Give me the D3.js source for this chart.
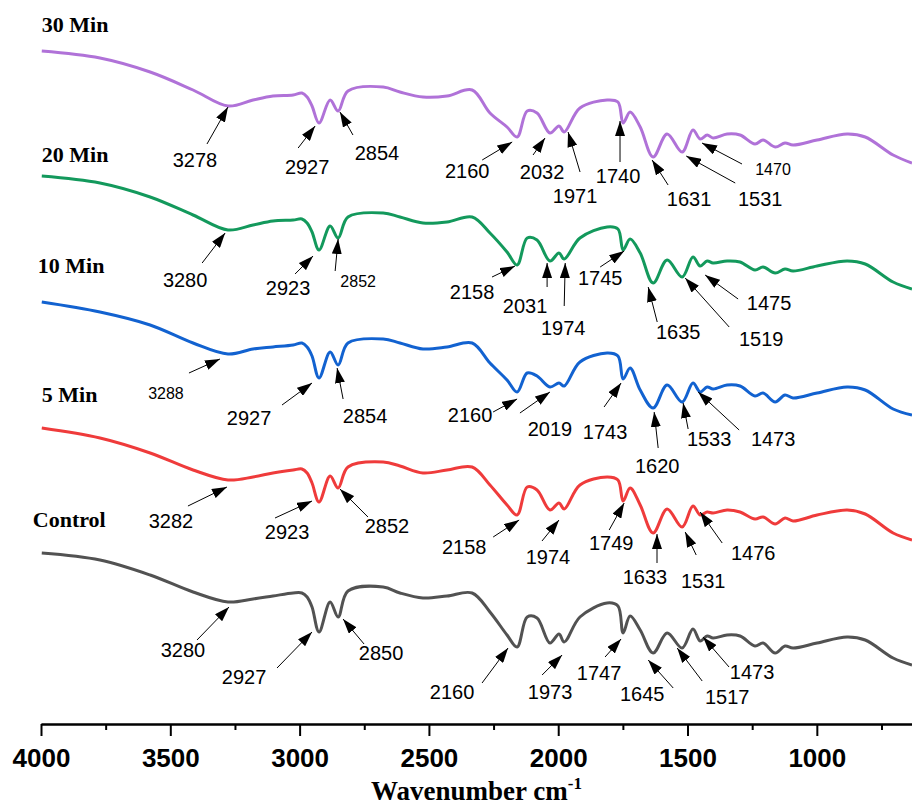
<!DOCTYPE html>
<html>
<head>
<meta charset="utf-8">
<script src="https://cdn.jsdelivr.net/npm/d3@7"></script>
<style>
  body { margin: 0; background: #fff; }
  svg { display: block; }
</style>
</head>
<body>
<script>
// wavenumber grid (cm-1) shared by all spectra
const wavenumbers = [3997, 3772, 3578, 3412, 3277, 3180, 3103, 3025, 2991, 2971,
  2952, 2925, 2882, 2851, 2813, 2677, 2612, 2523, 2430, 2333,
  2264, 2198, 2159, 2120, 2082, 2032, 1997, 1977, 1916, 1811,
  1769, 1749, 1722, 1683, 1633, 1579, 1521, 1479, 1451, 1424,
  1401, 1347, 1297, 1239, 1208, 1161, 1123, 1092, 999, 883,
  813, 705, 632]

// stacked transmittance (a.u.)
const min30 = [67.3, 66.6, 65.2, 63.4, 61.8, 62.4, 62.8, 62.9, 63.1, 62.7,
  61.8, 60.1, 62.4, 61.3, 63.3, 63.7, 63.2, 62.7, 62.8, 63.4,
  61.1, 59.7, 58.7, 61.3, 61.1, 59.1, 59.8, 59.2, 61.6, 62.4,
  62.2, 60.1, 61.2, 59.7, 56.7, 59.0, 57.2, 59.4, 58.5, 58.9,
  58.6, 59.0, 58.9, 58.0, 58.4, 57.7, 58.1, 57.9, 58.4, 59.0,
  58.7, 56.9, 56.1]
const min20 = [54.8, 54.1, 52.7, 50.9, 49.4, 49.9, 50.3, 50.4, 50.5, 50.1,
  49.2, 47.4, 49.8, 48.6, 50.7, 51.1, 50.7, 50.1, 50.2, 50.7,
  49.1, 47.2, 45.9, 48.6, 48.4, 46.3, 47.1, 46.5, 48.6, 49.7,
  49.5, 47.4, 48.5, 47.1, 44.1, 46.4, 44.7, 46.7, 45.8, 46.3,
  46.1, 46.3, 46.2, 45.4, 45.7, 45.1, 45.5, 45.3, 45.8, 46.3,
  46.0, 44.2, 43.5]
const min10 = [42.2, 41.2, 39.9, 38.1, 37.0, 37.5, 37.7, 37.9, 38.1, 37.7,
  36.8, 34.6, 37.2, 35.9, 38.1, 38.5, 38.1, 37.5, 37.7, 38.1,
  36.1, 34.4, 33.2, 35.1, 34.8, 33.7, 34.1, 33.8, 36.2, 37.1,
  36.8, 34.5, 35.6, 33.4, 31.6, 33.9, 32.2, 34.1, 33.2, 33.7,
  33.5, 33.9, 33.8, 32.8, 33.1, 32.2, 32.9, 32.6, 33.1, 33.7,
  33.4, 31.5, 30.9]
const min5 = [29.6, 28.6, 27.1, 25.4, 24.4, 24.7, 25.1, 25.4, 25.5, 25.1,
  24.1, 22.2, 24.8, 23.6, 25.7, 26.2, 25.8, 25.1, 25.4, 25.7,
  23.9, 21.9, 20.9, 23.7, 23.4, 21.4, 22.1, 21.5, 23.9, 24.7,
  24.4, 22.3, 23.6, 21.9, 19.1, 21.5, 19.7, 21.8, 20.9, 21.2,
  21.1, 21.4, 21.2, 20.5, 20.7, 20.0, 20.6, 20.3, 20.9, 21.4,
  21.0, 19.1, 18.4]
const control = [17.1, 16.4, 14.9, 13.2, 12.2, 12.5, 12.8, 13.1, 13.1, 12.7,
  11.7, 9.2, 12.2, 10.7, 13.3, 13.7, 13.1, 12.6, 12.8, 13.1,
  11.2, 8.9, 7.7, 10.7, 10.6, 8.1, 9.0, 8.2, 10.7, 12.1,
  11.8, 9.1, 10.8, 9.4, 7.1, 9.1, 7.6, 9.5, 8.3, 8.8,
  8.6, 8.9, 8.8, 7.8, 8.1, 7.1, 7.8, 7.6, 8.1, 8.7,
  8.4, 6.6, 5.9]

const seriesNames = ["30 Min", "20 Min", "10 Min", "5 Min", "Control"]
const seriesValues = [min30, min20, min10, min5, control]

const majorTicks = [4000, 3500, 3000, 2500, 2000, 1500, 1000]
const minorTicks = [3750, 3250, 2750, 2250, 1750, 1250, 750]

// peak labels: [text, tip wavenumber, tip value]
const peaks30 = [["3278", 3277, 61.7], ["2927", 2940, 59.8], ["2854", 2844, 61.2],
  ["2160", 2178, 58.2], ["2032", 2051, 58.6], ["1971", 1962, 59.2], ["1740", 1761, 60.3],
  ["1631", 1637, 56.4], ["1531", 1505, 56.8], ["1470", 1444, 58.1]]
const peaks20 = [["3280", 3288, 49.1], ["2923", 2948, 46.8], ["2852", 2851, 48.5],
  ["2158", 2167, 45.8], ["2031", 2043, 46.1], ["1974", 1973, 46.1], ["1745", 1745, 47.3],
  ["1635", 1652, 43.7], ["1519", 1509, 44.6], ["1475", 1432, 44.9]]
const peaks10 = [["3288", 3308, 36.5], ["2927", 2952, 34.1], ["2854", 2855, 35.6],
  ["2160", 2159, 32.5], ["2019", 2032, 33.2], ["1743", 1757, 34.1], ["1620", 1629, 31.2],
  ["1533", 1517, 32.1], ["1473", 1459, 33.2]]
const peaks5 = [["3282", 3281, 23.7], ["2923", 2952, 22.3], ["2852", 2844, 23.5],
  ["2158", 2151, 20.4], ["1974", 1997, 20.4], ["1749", 1745, 22.1], ["1633", 1618, 19.0],
  ["1531", 1509, 19.2], ["1476", 1451, 21.2]]
const peaksControl = [["3280", 3273, 11.7], ["2927", 2952, 9.2], ["2850", 2832, 10.5],
  ["2160", 2194, 7.6], ["1973", 1985, 6.9], ["1747", 1757, 8.5], ["1645", 1652, 6.4],
  ["1517", 1540, 7.6], ["1473", 1440, 8.7]]
const seriesPeaks = [peaks30, peaks20, peaks10, peaks5, peaksControl]

// layout of each arrow: [tail dx, tail dy, label dx, label dy, font size]
const arrowLayout = [
  [[-21,37,-33,53,20],[-17,22,-8,41,20],[13,23,37,41,20],[-30,18,-45,29,20],[-12,17,-3,34,20],
   [12,40,7,64,20],[0,41,-2,55,20],[16,25,37,39,20],[49,27,74,43,20],[40,21,71,26,16]],
  [[-23,30,-40,47,20],[-18,18,-25,32,20],[-3,32,20,42,16],[-23,11,-43,26,20],[0,24,-22,43,20],
   [-1,43,-2,65,20],[-24,16,-24,27,20],[9,35,30,45,20],[44,49,76,61,20],[33,24,64,28,20]],
  [[-31,14,-54,34,16],[-30,22,-63,35,20],[6,31,28,48,20],[-24,13,-47,16,20],[-30,21,0,37,20],
   [-17,24,-16,49,20],[4,36,3,54,20],[5,26,26,36,20],[41,38,75,47,20]],
  [[-39,19,-56,34,20],[-37,17,-25,31,20],[28,28,47,37,20],[-26,17,-55,27,20],[-17,21,-11,37,20],
   [-15,27,-13,40,20],[0,29,-12,43,20],[11,23,18,49,20],[22,31,53,41,20]],
  [[-32,33,-46,43,20],[-35,36,-68,45,20],[21,25,38,34,20],[-26,35,-56,44,20],[-20,20,-12,37,20],
   [-16,18,-22,34,20],[25,28,-6,34,20],[25,33,50,49,20],[26,30,49,35,20]]
]

const colors = ["#b072d8", "#13995c", "#1262d0", "#ef3b3b", "#525252"]
// series name position relative to curve start
const nameOffset = [[0,-19],[0,-14],[-4,-29],[0,-26],[-9,-26]]

const width = 912
const height = 805

const x = d3.scaleLinear().domain([4000, 632]).range([41, 912])
const y = d3.scaleLinear().domain([0, 72.4]).range([724, 0])

const svg = d3.select("body").append("svg")
    .attr("width", width)
    .attr("height", height)

svg.append("defs").append("marker")
    .attr("id", "head")
    .attr("viewBox", "0 -5 15 10")
    .attr("refX", 15)
    .attr("refY", 0)
    .attr("markerWidth", 15)
    .attr("markerHeight", 10)
    .attr("markerUnits", "userSpaceOnUse")
    .attr("orient", "auto")
  .append("path")
    .attr("d", "M0,-5L15,0L0,5Z")
    .attr("fill", "#000")

const line = d3.line()
    .x(d => x(d[0]))
    .y(d => y(d[1]))
    .curve(d3.curveCatmullRom.alpha(0.5))

seriesValues.forEach((vals, i) => {
  const pts = wavenumbers.map((w, j) => [w, vals[j]])

  svg.append("path")
      .datum(pts)
      .attr("fill", "none")
      .attr("stroke", colors[i])
      .attr("stroke-width", 3)
      .attr("stroke-linejoin", "round")
      .attr("d", line)

  svg.append("text")
      .attr("x", x(wavenumbers[0]) + nameOffset[i][0])
      .attr("y", y(vals[0]) + nameOffset[i][1])
      .attr("font-family", "'Liberation Serif', 'Times New Roman', serif")
      .attr("font-weight", "bold")
      .attr("font-size", 22)
      .text(seriesNames[i])

  seriesPeaks[i].forEach((p, k) => {
    const lay = arrowLayout[i][k]
    const tx = x(p[1]), ty = y(p[2])
    svg.append("line")
        .attr("x1", tx + lay[0])
        .attr("y1", ty + lay[1])
        .attr("x2", tx)
        .attr("y2", ty)
        .attr("stroke", "#000")
        .attr("stroke-width", 1)
        .attr("marker-end", "url(#head)")
    svg.append("text")
        .attr("x", tx + lay[2])
        .attr("y", ty + lay[3])
        .attr("text-anchor", "middle")
        .attr("dominant-baseline", "central")
        .attr("font-family", "'Liberation Sans', Arial, sans-serif")
        .attr("font-size", lay[4])
        .attr("fill", "#000")
        .text(p[0])
  })
})

// x axis
const axisG = svg.append("g").attr("transform", `translate(0,${y(0)})`)

axisG.call(d3.axisBottom(x)
    .tickValues(majorTicks)
    .tickSize(12)
    .tickSizeOuter(0)
    .tickPadding(13)
    .tickFormat(d3.format("d")))

axisG.append("g").call(d3.axisBottom(x)
    .tickValues(minorTicks)
    .tickSize(6)
    .tickSizeOuter(0)
    .tickFormat(""))

axisG.selectAll("path.domain").attr("stroke", "#000").attr("stroke-width", 2)
axisG.selectAll(".tick line").attr("stroke", "#000").attr("stroke-width", 2)
axisG.selectAll(".tick text")
    .attr("font-family", "'Liberation Sans', Arial, sans-serif")
    .attr("font-weight", "bold")
    .attr("font-size", 26)
    .attr("fill", "#000")

const title = svg.append("text")
    .attr("x", (x.range()[0] + x.range()[1]) / 2)
    .attr("y", 800)
    .attr("text-anchor", "middle")
    .attr("font-family", "'Liberation Serif', 'Times New Roman', serif")
    .attr("font-weight", "bold")
    .attr("font-size", 27)
title.append("tspan").text("Wavenumber cm")
title.append("tspan").attr("dy", -11).attr("font-size", 17).text("-1")
</script>
</body>
</html>
